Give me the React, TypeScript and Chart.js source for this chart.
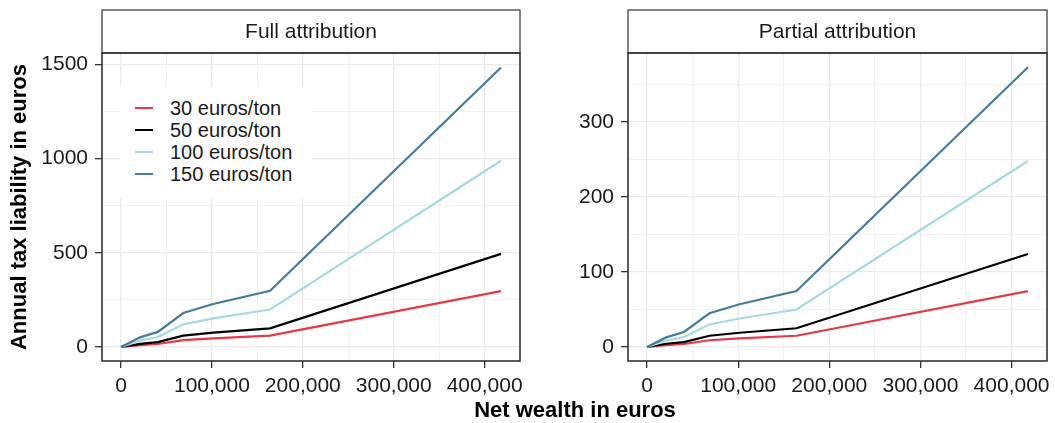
import React, { useEffect, useRef } from "react";
import { Chart, registerables } from "chart.js";

Chart.register(...registerables);

// ---------- data ----------
const wealth = [0, 21000, 40500, 68500, 101500, 164000, 418000];

const seriesLabels = ["30 euros/ton", "50 euros/ton", "100 euros/ton", "150 euros/ton"];
const seriesColors = ["#e63946", "#000000", "#a8dadc", "#457b9d"];

const full30 = [0, 10, 16, 36, 46, 60, 296];
const full50 = [0, 17, 26, 60, 76, 99, 494];
const full100 = [0, 34, 53, 120, 152, 199, 988];
const full150 = [0, 51, 80, 180, 228, 298, 1482];

const partial30 = [0, 2.5, 4, 9, 11.5, 15, 74.5];
const partial50 = [0, 4.3, 6.6, 15, 19, 25, 124];
const partial100 = [0, 8.5, 13.3, 30, 38, 50, 248];
const partial150 = [0, 12.8, 20, 45, 57, 74.5, 373];

const xTicks = [0, 50000, 100000, 150000, 200000, 250000, 300000, 350000, 400000];
const xMajor = [0, 100000, 200000, 300000, 400000];
const fullYTicks = [0, 250, 500, 750, 1000, 1250, 1500];
const fullYMajor = [0, 500, 1000, 1500];
const partialYTicks = [0, 50, 100, 150, 200, 250, 300, 350];
const partialYMajor = [0, 100, 200, 300];

const panelTitles = ["Full attribution", "Partial attribution"];
const xTitle = "Net wealth in euros";
const yTitle = "Annual tax liability in euros";

const FONT = "'Liberation Sans', Arial, Helvetica, sans-serif";

const fmt = (v: number) => String(v).replace(/\B(?=(\d{3})+(?!\d))/g, ",");

type PanelOpts = {
  series: number[][];
  yMin: number;
  yMax: number;
  yTicks: number[];
  yMajor: number[];
  yWidth: number;
  padRight: number;
  title: string;
};

function makeChart(canvas: HTMLCanvasElement, o: PanelOpts) {
  const stripPlugin = {
    id: "panelDecor",
    afterDraw(chart: any) {
      const ctx = chart.ctx;
      const a = chart.chartArea;
      ctx.save();
      // strip
      ctx.fillStyle = "#ffffff";
      ctx.fillRect(a.left, 10, a.right - a.left, a.top - 10);
      ctx.strokeStyle = "#333333";
      ctx.lineWidth = 1.2;
      ctx.strokeRect(a.left, 10, a.right - a.left, a.top - 10);
      ctx.fillStyle = "#1a1a1a";
      ctx.font = `21px ${FONT}`;
      ctx.textAlign = "center";
      ctx.textBaseline = "middle";
      ctx.fillText(o.title, (a.left + a.right) / 2, (10 + a.top) / 2 + 1);
      // panel border
      ctx.lineWidth = 1.6;
      ctx.strokeStyle = "#333333";
      ctx.strokeRect(a.left, a.top, a.right - a.left, a.bottom - a.top);
      ctx.restore();
    },
  };

  const datasets = o.series.map((s, i) => ({
    label: seriesLabels[i],
    data: wealth.map((x, j) => ({ x, y: s[j] })),
    borderColor: seriesColors[i],
    backgroundColor: seriesColors[i],
    borderWidth: 2.2,
    pointRadius: 0,
    tension: 0,
    fill: false,
    order: 3 - i,
  }));

  return new Chart(canvas, {
    type: "line",
    data: { datasets },
    plugins: [stripPlugin],
    options: {
      animation: false,
      responsive: false,
      devicePixelRatio: 1,
      layout: { padding: { top: 53, right: o.padRight, left: 0, bottom: 0 } },
      plugins: { legend: { display: false }, tooltip: { enabled: false } },
      scales: {
        x: {
          type: "linear",
          min: -20900,
          max: 438900,
          afterBuildTicks: (axis: any) => {
            axis.ticks = xTicks.map((v) => ({ value: v }));
          },
          afterFit: (axis: any) => {
            axis.height = 62;
            axis.paddingLeft = 0;
            axis.paddingRight = 0;
          },
          border: { display: false },
          grid: {
            color: "#ebebeb",
            lineWidth: (c: any) => (c.tick && xMajor.includes(c.tick.value) ? 1.3 : 0.65),
            tickColor: (c: any) => (c.tick && xMajor.includes(c.tick.value) ? "#333333" : "rgba(0,0,0,0)"),
            tickWidth: 1.3,
            tickLength: 7,
            drawTicks: true,
          },
          ticks: {
            autoSkip: false,
            maxRotation: 0,
            minRotation: 0,
            padding: 6,
            color: "#1a1a1a",
            font: { family: FONT, size: 21 },
            callback: (v: any) => (xMajor.includes(Number(v)) ? fmt(Number(v)) : ""),
          },
        },
        y: {
          type: "linear",
          min: o.yMin,
          max: o.yMax,
          afterBuildTicks: (axis: any) => {
            axis.ticks = o.yTicks.map((v) => ({ value: v }));
          },
          afterFit: (axis: any) => {
            axis.width = o.yWidth;
            axis.paddingTop = 0;
            axis.paddingBottom = 0;
          },
          border: { display: false },
          grid: {
            color: "#ebebeb",
            lineWidth: (c: any) => (c.tick && o.yMajor.includes(c.tick.value) ? 1.3 : 0.65),
            tickColor: (c: any) => (c.tick && o.yMajor.includes(c.tick.value) ? "#333333" : "rgba(0,0,0,0)"),
            tickWidth: 1.3,
            tickLength: 7,
            drawTicks: true,
          },
          ticks: {
            autoSkip: false,
            padding: 7,
            color: "#1a1a1a",
            font: { family: FONT, size: 21 },
            callback: (v: any) => (o.yMajor.includes(Number(v)) ? String(v) : ""),
          },
        },
      },
    } as any,
  });
}

export default function App() {
  const leftRef = useRef<HTMLCanvasElement>(null);
  const rightRef = useRef<HTMLCanvasElement>(null);

  useEffect(() => {
    const c1 = makeChart(leftRef.current!, {
      series: [full30, full50, full100, full150],
      yMin: -74.25,
      yMax: 1559.25,
      yTicks: fullYTicks,
      yMajor: fullYMajor,
      yWidth: 102,
      padRight: 5,
      title: panelTitles[0],
    });
    const c2 = makeChart(rightRef.current!, {
      series: [partial30, partial50, partial100, partial150],
      yMin: -18.67,
      yMax: 391.97,
      yTicks: partialYTicks,
      yMajor: partialYMajor,
      yWidth: 98,
      padRight: 8,
      title: panelTitles[1],
    });
    return () => {
      c1.destroy();
      c2.destroy();
    };
  }, []);

  return (
    <div
      style={{
        position: "absolute",
        left: 0,
        top: 0,
        width: 1055,
        height: 423,
        overflow: "hidden",
        background: "#ffffff",
        fontFamily: FONT,
      }}
    >
      <canvas ref={leftRef} width={525} height={423} style={{ position: "absolute", left: 0, top: 0, width: 525, height: 423 }} />
      <canvas ref={rightRef} width={525} height={423} style={{ position: "absolute", left: 530, top: 0, width: 525, height: 423 }} />

      {/* legend inside left panel */}
      <div
        style={{
          position: "absolute",
          left: 120,
          top: 87,
          width: 192,
          height: 112,
          background: "#ffffff",
        }}
      >
        {seriesLabels.map((lab, i) => (
          <div key={lab} style={{ position: "absolute", left: 0, top: 21 + i * 22 - 11, height: 22, width: 192 }}>
            <div
              style={{
                position: "absolute",
                left: 15,
                top: 10,
                width: 18,
                height: 2.2,
                background: seriesColors[i],
              }}
            />
            <div
              style={{
                position: "absolute",
                left: 50,
                top: 0,
                lineHeight: "22px",
                fontSize: 20,
                color: "#1a1a1a",
                whiteSpace: "nowrap",
              }}
            >
              {lab}
            </div>
          </div>
        ))}
      </div>

      {/* y axis title */}
      <div
        style={{
          position: "absolute",
          left: 18.5 - 200,
          top: 207 - 12,
          width: 400,
          height: 24,
          lineHeight: "24px",
          textAlign: "center",
          transform: "rotate(-90deg)",
          fontWeight: "bold",
          fontSize: 22,
          color: "#000",
          whiteSpace: "nowrap",
        }}
      >
        {yTitle}
      </div>

      {/* x axis title */}
      <div
        style={{
          position: "absolute",
          left: 575 - 200,
          top: 398,
          width: 400,
          height: 24,
          lineHeight: "24px",
          textAlign: "center",
          fontWeight: "bold",
          fontSize: 22,
          color: "#000",
          whiteSpace: "nowrap",
        }}
      >
        {xTitle}
      </div>
    </div>
  );
}
